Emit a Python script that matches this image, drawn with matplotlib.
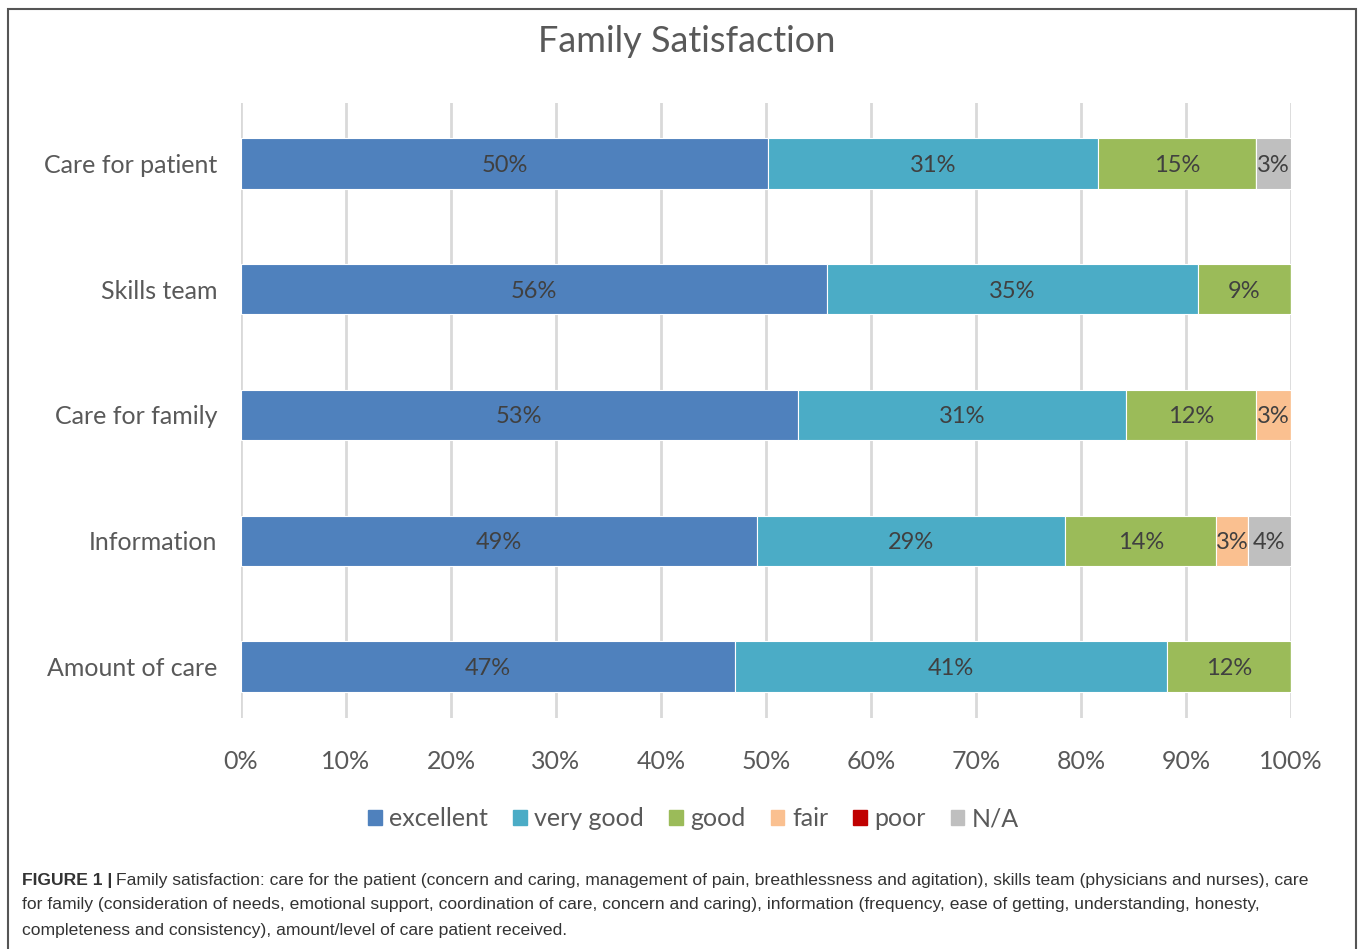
import matplotlib.pyplot as plt
import matplotlib.patches as mpatches
import numpy as np

# datos
categories = ['Care for patient', 'Skills team', 'Care for family', 'Information', 'Amount of care']
series = ['excellent', 'very good', 'good', 'fair', 'poor', 'N/A']
excellent = [50.2, 55.8, 53.0, 49.1, 47.0]
very_good = [31.4, 35.3, 31.3, 29.4, 41.2]
good = [15.1, 8.9, 12.4, 14.4, 11.8]
fair = [0.0, 0.0, 3.3, 3.0, 0.0]
poor = [0.0, 0.0, 0.0, 0.0, 0.0]
na = [3.3, 0.0, 0.0, 4.1, 0.0]
colors = ['#4F81BD', '#4BACC6', '#9BBB59', '#FAC090', '#C00000', '#BFBFBF']

caption_bold = 'FIGURE 1 |'
caption = ('Family satisfaction: care for the patient (concern and caring, management of pain, '
           'breathlessness and agitation), skills team (physicians and nurses), care\n'
           'for family (consideration of needs, emotional support, coordination of care, concern and caring), '
           'information (frequency, ease of getting, understanding, honesty,\n'
           'completeness and consistency), amount/level of care patient received.')

font = 'Lato'
txt = '#595959'

fig = plt.figure(figsize=(13.6, 9.49), dpi=100)
ax = fig.add_axes([241/1360, 1-718/949, 1050/1360, 615/949])

y = np.arange(len(categories))
left = np.zeros(len(categories))
data = [excellent, very_good, good, fair, poor, na]
for vals, name, col in zip(data, series, colors):
    vals = np.array(vals)
    bars = ax.barh(y, vals, left=left, height=0.4, color=col, edgecolor='white',
                   linewidth=0.8, label=name, zorder=3)
    for b, v in zip(bars, vals):
        if v > 0:
            ax.text(b.get_x() + b.get_width()/2, b.get_y() + b.get_height()/2,
                    '%d%%' % round(v), ha='center', va='center_baseline', fontsize=17,
                    color='#404040', family=font, zorder=4)
    left += vals

ax.set_xlim(0, 100)
ax.set_ylim(4.41, -0.48)
ax.set_xticks(np.arange(0, 101, 10))
ax.set_xticklabels(['%d%%' % t for t in range(0, 101, 10)], fontsize=18, color=txt, family=font)
ax.set_yticks(y)
ax.set_yticklabels(categories, fontsize=18, color=txt, family=font)
ax.tick_params(length=0, pad=17)
ax.tick_params(axis='x', pad=23)
ax.grid(axis='x', color='#D9D9D9', linewidth=2, zorder=0)
for s in ax.spines.values():
    s.set_visible(False)

fig.text(0.505, 1-42/949, 'Family Satisfaction', ha='center', va='center',
         fontsize=26, color=txt, family=font)

handles = [mpatches.Patch(color=c, label=n) for c, n in zip(colors, series)]
fig.legend(handles=handles, loc='center', bbox_to_anchor=(0.51, 1-819/949), ncol=6,
           frameon=False, handlelength=0.55, handleheight=0.55,
           handletextpad=0.3, columnspacing=1.0, prop={'family': font, 'size': 18},
           labelcolor=txt)

# marco exterior
fig.patches.append(mpatches.Rectangle((8/1360, -0.01), 1348/1360, 1-9/949+0.01,
                                      transform=fig.transFigure, fill=False,
                                      edgecolor='#555555', linewidth=1.5))

cap_font = ['Liberation Sans Narrow', 'Liberation Sans']
cap_size = 12.6
t = fig.text(22/1360, 1-880/949, caption_bold, ha='left', va='center', fontsize=cap_size,
             weight='bold', color='#333333', family=cap_font)
fig.canvas.draw()
bb = t.get_window_extent()
fig.text((bb.x1 + 4)/1360, 1-880/949, caption.split('\n')[0], ha='left', va='center',
         fontsize=cap_size, color='#333333', family=cap_font)
for i, line in enumerate(caption.split('\n')[1:]):
    fig.text(22/1360, 1-(905 + 25*i)/949, line, ha='left', va='center',
             fontsize=cap_size, color='#333333', family=cap_font)

plt.savefig('out.png', dpi=100)
